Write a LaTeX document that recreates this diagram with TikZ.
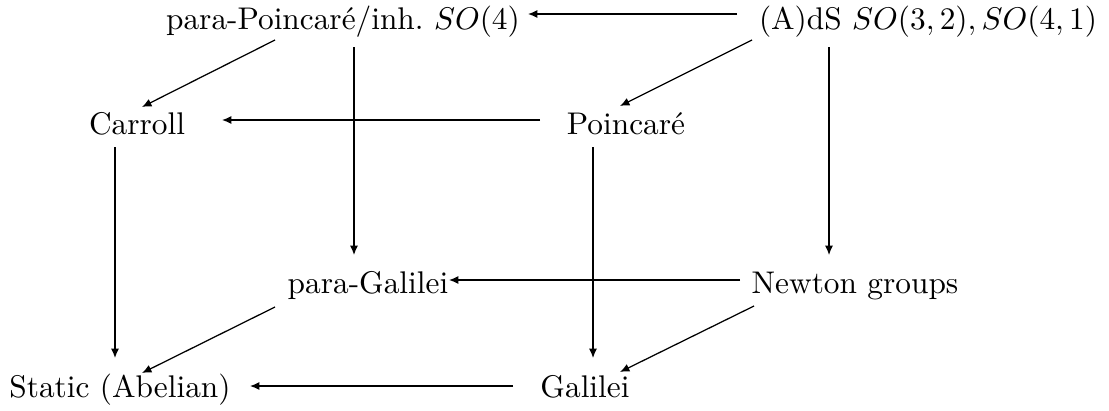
\documentclass[tikz,border=0pt]{standalone}
\usepackage{tikz}
\usepackage{amsmath}
\usetikzlibrary{arrows.meta, calc}

\tikzset{
  grp/.style={inner sep=0pt, outer sep=0pt, anchor=base},
  emb/.style={-{Latex[length=3pt,width=2.6pt]}, line width=0.4pt},
}

\begin{document}
\begin{tikzpicture}[x=0.01122cm, y=-0.01122cm]
  \useasboundingbox (0,0) rectangle (1109,410);
  % top row
  \node[grp] (pP) at (343,29) {para-Poincar\'e/inh.\ $SO(4)$};
  \node[grp] (AdS) at (928,29) {(A)dS $SO(3,2), SO(4,1)$};
  % second row
  \node[grp] (Car) at (137,134) {Carroll};
  \node[grp] (Poi) at (626,134) {Poincar\'e};
  % third row
  \node[grp] (pG) at (368,293) {para-Galilei};
  \node[grp] (New) at (855,293) {Newton groups};
  % bottom row
  \node[grp] (Sta) at (120,397) {Static (Abelian)};
  \node[grp] (Gal) at (585,397) {Galilei};
  % horizontal maps
  \draw[emb] ($(AdS.base)+(-191,-15)$) -- ($(pP.base)+(185,-15)$);
  \draw[emb] ($(Poi.base)+(-86,-14)$) -- ($(Car.base)+(85,-14)$);
  \draw[emb] ($(New.base)+(-115,-13)$) -- ($(pG.base)+(81,-13)$);
  \draw[emb] ($(Gal.base)+(-72,-11)$) -- ($(Sta.base)+(130,-11)$);
  % vertical maps
  \draw[emb] ($(pP.base)+(11,18)$) -- ($(pG.base)+(-14,-38)$);
  \draw[emb] ($(AdS.base)+(-99,18)$) -- ($(New.base)+(-26,-38)$);
  \draw[emb] ($(Car.base)+(-22,13)$) -- ($(Sta.base)+(-5,-39)$);
  \draw[emb] ($(Poi.base)+(-33,13)$) -- ($(Gal.base)+(8,-39)$);
  % diagonal maps
  \draw[emb] ($(pP.base)+(-68,11)$) -- ($(Car.base)+(5,-27)$);
  \draw[emb] ($(AdS.base)+(-176,11)$) -- ($(Poi.base)+(-6,-28)$);
  \draw[emb] ($(pG.base)+(-93,14)$) -- ($(Sta.base)+(22,-24)$);
  \draw[emb] ($(New.base)+(-101,13)$) -- ($(Gal.base)+(35,-25)$);
\end{tikzpicture}
\end{document}
